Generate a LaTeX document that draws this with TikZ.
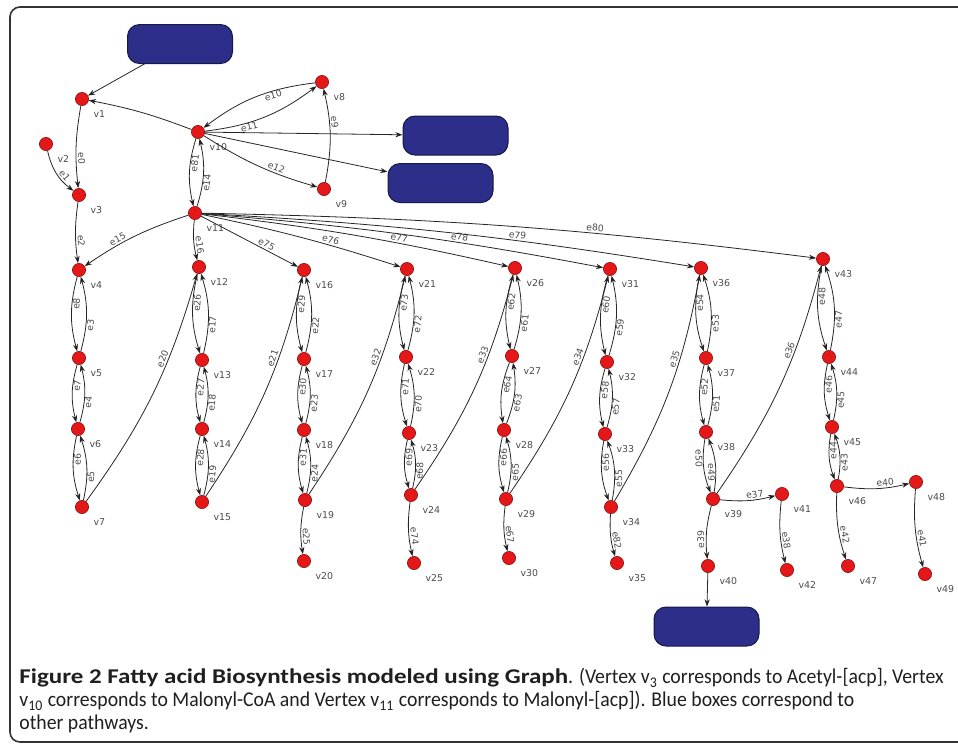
\documentclass[tikz,border=0pt]{standalone}
\usepackage{graphicx}
\usepackage{fontspec}
\setmainfont{Carlito}[UprightFeatures={FakeStretch=0.94}]
\newfontfamily\graphfont{DejaVu Sans}
\usetikzlibrary{arrows.meta}
\definecolor{vred}{RGB}{228,24,24}
\definecolor{vredline}{RGB}{140,20,20}
\definecolor{pathblue}{RGB}{44,46,138}
\definecolor{pathline}{RGB}{22,24,70}
\definecolor{labgray}{RGB}{75,75,75}
\tikzset{every picture/.style={line width=0.4pt}}
\tikzset{
    vlab/.style={font=\graphfont\fontsize{4.7}{5}\selectfont, text=labgray, inner sep=0.3pt, label distance=4pt},
    vtx/.style={circle, fill=vred, draw=vredline, line width=0.3pt, minimum size=6.6pt, inner sep=0pt, label={[vlab]-45:#1}},
    pathway/.style={rectangle, rounded corners=6pt, fill=pathblue, draw=pathline, line width=0.5pt, minimum width=52.5pt, minimum height=19.5pt},
    link/.style={draw=black!85, -{Stealth[length=3.6pt,width=2.6pt]}},
    pair/.style={bend right=15},
    arc/.style={bend right=10},
    elab/.style={font=\graphfont\fontsize{4.6}{5}\selectfont, text=labgray, inner sep=0.8pt, sloped, auto},
    plab/.style={elab, pos=.35, swap, inner sep=0.2pt},
    slab/.style={elab, pos=.65},
    frame/.style={draw=black!80, line width=0.8pt, rounded corners=5pt}
}

\begin{document}
\begin{tikzpicture}[x=0.5pt, y=-0.5pt]
    \useasboundingbox (0,0) rectangle (958,746);
    \draw[frame] (958,7) -- (10,7) -- (10,742) -- (958,742);

    % other pathways
    \node[pathway] (p1) at (180,44) {};
    \node[pathway] (p2) at (455.5,135.5) {};
    \node[pathway] (p3) at (440.5,183) {};
    \node[pathway] (p4) at (706.5,626.5) {};

    % vertices
    \node[vtx=v1] (v1) at (82,99) {};
    \node[vtx=v2] (v2) at (46,144) {};
    \node[vtx=v3] (v3) at (79,195) {};
    \node[vtx=v4] (v4) at (79,270) {};
    \node[vtx=v5] (v5) at (79,358) {};
    \node[vtx=v6] (v6) at (78,429) {};
    \node[vtx=v7] (v7) at (82,507) {};
    \node[vtx=v8] (v8) at (322,82) {};
    \node[vtx=v9] (v9) at (324,189) {};
    \node[vtx=v10] (v10) at (198,132) {};
    \node[vtx=v11] (v11) at (195,213) {};
    \node[vtx=v12] (v12) at (199,267) {};
    \node[vtx=v13] (v13) at (202,360) {};
    \node[vtx=v14] (v14) at (202,429) {};
    \node[vtx=v15] (v15) at (202,502) {};
    \node[vtx=v16] (v16) at (304,270) {};
    \node[vtx=v17] (v17) at (304,359) {};
    \node[vtx=v18] (v18) at (304,430) {};
    \node[vtx=v19] (v19) at (305,500) {};
    \node[vtx=v20] (v20) at (304,561) {};
    \node[vtx=v21] (v21) at (407,269) {};
    \node[vtx=v22] (v22) at (406,357) {};
    \node[vtx=v23] (v23) at (409,433) {};
    \node[vtx=v24] (v24) at (411,495) {};
    \node[vtx=v25] (v25) at (414,563) {};
    \node[vtx=v26] (v26) at (515,268) {};
    \node[vtx=v27] (v27) at (512,356) {};
    \node[vtx=v28] (v28) at (504,430) {};
    \node[vtx=v29] (v29) at (506,499) {};
    \node[vtx=v30] (v30) at (509,558) {};
    \node[vtx=v31] (v31) at (610,269) {};
    \node[vtx=v32] (v32) at (607,362) {};
    \node[vtx=v33] (v33) at (605,434) {};
    \node[vtx=v34] (v34) at (611,507) {};
    \node[vtx=v35] (v35) at (617,563) {};
    \node[vtx=v36] (v36) at (701,268) {};
    \node[vtx=v37] (v37) at (706,358) {};
    \node[vtx=v38] (v38) at (706,432) {};
    \node[vtx=v39] (v39) at (713,499) {};
    \node[vtx=v40] (v40) at (708,566) {};
    \node[vtx=v41] (v41) at (782,494) {};
    \node[vtx=v42] (v42) at (787,570) {};
    \node[vtx=v43] (v43) at (823,259) {};
    \node[vtx=v44] (v44) at (829,357) {};
    \node[vtx=v45] (v45) at (832,427) {};
    \node[vtx=v46] (v46) at (837,486) {};
    \node[vtx=v47] (v47) at (848,566) {};
    \node[vtx=v48] (v48) at (916,482) {};
    \node[vtx=v49] (v49) at (925,574) {};

    % edges
    \draw[link]
        (p1) edge (v1)
        (v10) edge[bend right=5] (v1)
        (v1) edge[bend right=8] node[slab] {e0} (v3)
        (v2) edge[bend right=20] node[slab] {e1} (v3)
        (v3) edge[bend right=8] node[slab] {e2} (v4)
        (v8) edge[pair] node[plab] {e10} (v10)
        (v10) edge[pair] node[plab] {e11} (v8)
        (v9) edge[bend right=12] node[slab] {e9} (v8)
        (v10) edge[bend right=8] node[slab] {e12} (v9)
        (v10) edge (p2)
        (v10) edge (p3)
        (v10) edge[pair] node[plab] {e81} (v11)
        (v11) edge[pair] node[plab] {e14} (v10)
        (v11) edge[bend right=8] node[slab] {e15} (v4)
        (v11) edge[arc] node[slab] {e16} (v12)
        (v11) edge node[slab] {e75} (v16)
        (v11) edge[bend left=3] node[slab] {e76} (v21)
        (v11) edge[bend left=3] node[slab] {e77} (v26)
        (v11) edge[bend left=3] node[slab] {e78} (v31)
        (v11) edge[bend left=3] node[slab] {e79} (v36)
        (v11) edge[bend left=3] node[slab] {e80} (v43)
        (v4) edge[pair] node[plab] {e8} (v5)
        (v5) edge[pair] node[plab] {e3} (v4)
        (v5) edge[pair] node[plab] {e7} (v6)
        (v6) edge[pair] node[plab] {e4} (v5)
        (v6) edge[pair] node[plab] {e6} (v7)
        (v7) edge[pair] node[plab] {e5} (v6)
        (v7) edge[arc] node[slab] {e20} (v12)
        (v12) edge[pair] node[plab] {e26} (v13)
        (v13) edge[pair] node[plab] {e17} (v12)
        (v13) edge[pair] node[plab] {e27} (v14)
        (v14) edge[pair] node[plab] {e18} (v13)
        (v14) edge[pair] node[plab] {e28} (v15)
        (v15) edge[pair] node[plab] {e19} (v14)
        (v15) edge[arc] node[slab] {e21} (v16)
        (v16) edge[pair] node[plab] {e29} (v17)
        (v17) edge[pair] node[plab] {e22} (v16)
        (v17) edge[pair] node[plab] {e30} (v18)
        (v18) edge[pair] node[plab] {e23} (v17)
        (v18) edge[pair] node[plab] {e31} (v19)
        (v19) edge[pair] node[plab] {e24} (v18)
        (v19) edge[arc] node[slab] {e25} (v20)
        (v19) edge[arc] node[slab] {e32} (v21)
        (v21) edge[pair] node[plab] {e73} (v22)
        (v22) edge[pair] node[plab] {e72} (v21)
        (v22) edge[pair] node[plab] {e71} (v23)
        (v23) edge[pair] node[plab] {e70} (v22)
        (v23) edge[pair] node[plab] {e69} (v24)
        (v24) edge[pair] node[plab] {e68} (v23)
        (v24) edge[arc] node[slab] {e74} (v25)
        (v24) edge[arc] node[slab] {e33} (v26)
        (v26) edge[pair] node[plab] {e62} (v27)
        (v27) edge[pair] node[plab] {e61} (v26)
        (v27) edge[pair] node[plab] {e64} (v28)
        (v28) edge[pair] node[plab] {e63} (v27)
        (v28) edge[pair] node[plab] {e66} (v29)
        (v29) edge[pair] node[plab] {e65} (v28)
        (v29) edge[arc] node[slab] {e67} (v30)
        (v29) edge[arc] node[slab] {e34} (v31)
        (v31) edge[pair] node[plab] {e60} (v32)
        (v32) edge[pair] node[plab] {e59} (v31)
        (v32) edge[pair] node[plab] {e58} (v33)
        (v33) edge[pair] node[plab] {e57} (v32)
        (v33) edge[pair] node[plab] {e56} (v34)
        (v34) edge[pair] node[plab] {e55} (v33)
        (v34) edge[arc] node[slab] {e82} (v35)
        (v34) edge[arc] node[slab] {e35} (v36)
        (v36) edge[pair] node[plab] {e54} (v37)
        (v37) edge[pair] node[plab] {e53} (v36)
        (v37) edge[pair] node[plab] {e52} (v38)
        (v38) edge[pair] node[plab] {e51} (v37)
        (v38) edge[pair] node[plab] {e50} (v39)
        (v39) edge[pair] node[plab] {e49} (v38)
        (v39) edge[arc] node[slab] {e39} (v40)
        (v39) edge[arc] node[slab] {e37} (v41)
        (v41) edge[arc] node[slab] {e38} (v42)
        (v39) edge[arc] node[slab] {e36} (v43)
        (v40) edge (p4)
        (v43) edge[pair] node[plab] {e48} (v44)
        (v44) edge[pair] node[plab] {e47} (v43)
        (v44) edge[pair] node[plab] {e46} (v45)
        (v45) edge[pair] node[plab] {e45} (v44)
        (v45) edge[pair] node[plab] {e44} (v46)
        (v46) edge[pair] node[plab] {e43} (v45)
        (v46) edge[arc] node[slab] {e42} (v47)
        (v46) edge[arc] node[slab] {e40} (v48)
        (v48) edge[arc] node[slab] {e41} (v49);

    % caption
    \node[anchor=north west, align=left, inner sep=0pt, text=black!88,
          font=\fontsize{10.5}{11.5}\selectfont] (cap) at (19,668)
        {\scalebox{1.19}[1]{\textbf{Figure 2 Fatty acid Biosynthesis modeled using Graph}}. (Vertex v\textsubscript{3} corresponds to Acetyl-[acp], Vertex\\
         v\textsubscript{10} corresponds to Malonyl-CoA and Vertex v\textsubscript{11} corresponds to Malonyl-[acp]). Blue boxes correspond to\\
         other pathways.};
\end{tikzpicture}
\end{document}
